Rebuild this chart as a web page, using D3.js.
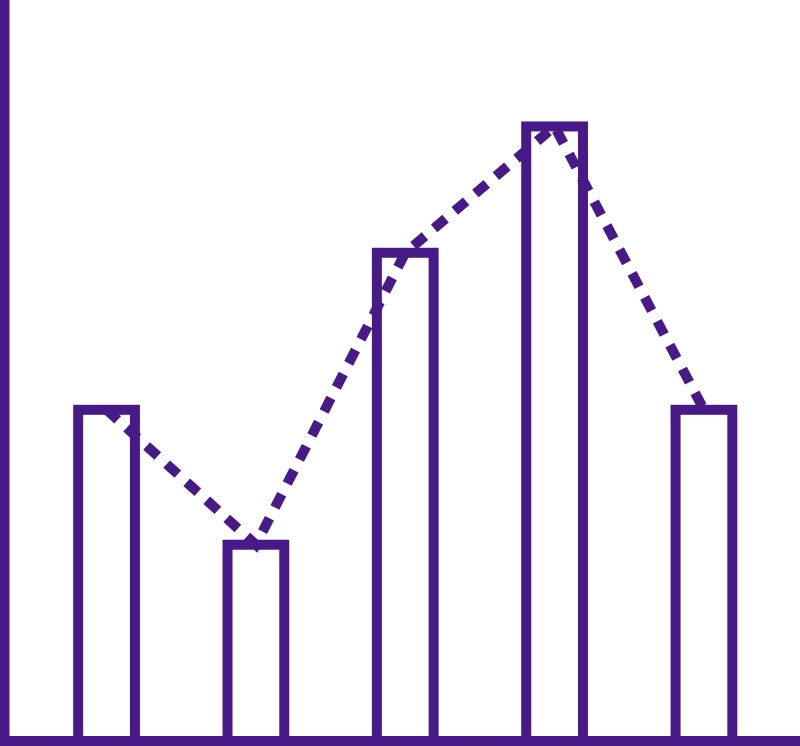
<!DOCTYPE html>
<html>
<head>
<meta charset="utf-8">
<script src="https://cdn.jsdelivr.net/npm/d3@7"></script>
<style>
  html, body { margin: 0; padding: 0; background: #fff; }
  svg { display: block; }
</style>
</head>
<body>
<script>
// chart size matches the window
var width = 800,
    height = 746;

var purple = '#481a88';

// data
var categories = ['A', 'B', 'C', 'D', 'E'];
var barValues = [27, 16, 39.8, 50.1, 27];
var lineValues = [27, 16, 39.8, 50.1, 27];

// band scale for the bars
var x = d3.scaleBand()
  .domain(categories)
  .range([3.5, 807])
  .paddingInner(0.62)
  .paddingOuter(0.5);

// linear scale for values, baseline sits on the bottom axis
var y = d3.scaleLinear()
  .domain([0, 60])
  .range([741, 5]);

var svg = d3.select('body')
  .append('svg')
  .attr('width', width)
  .attr('height', height);

// bars: white fill with thick purple outline
svg.append('g')
  .selectAll('rect')
  .data(categories)
  .enter().append('rect')
  .attr('x', function(d) { return x(d); })
  .attr('y', function(d, i) { return y(barValues[i]); })
  .attr('width', x.bandwidth())
  .attr('height', function(d, i) { return y(0) - y(barValues[i]); })
  .attr('fill', '#fff')
  .attr('stroke', purple)
  .attr('stroke-width', 10);

// dashed line through the bar tops
var line = d3.line()
  .x(function(d, i) { return x(categories[i]) + x.bandwidth() / 2; })
  .y(function(d) { return y(d); });

svg.append('path')
  .datum(lineValues)
  .attr('d', line)
  .attr('fill', 'none')
  .attr('stroke', purple)
  .attr('stroke-width', 10)
  .attr('stroke-dasharray', '15,12');

// axes without ticks, just the heavy lines
svg.append('line')
  .attr('x1', 4.5).attr('x2', 4.5)
  .attr('y1', 0).attr('y2', height)
  .attr('stroke', purple)
  .attr('stroke-width', 10);

svg.append('line')
  .attr('x1', 0).attr('x2', width)
  .attr('y1', y(0)).attr('y2', y(0))
  .attr('stroke', purple)
  .attr('stroke-width', 10);
</script>
</body>
</html>
